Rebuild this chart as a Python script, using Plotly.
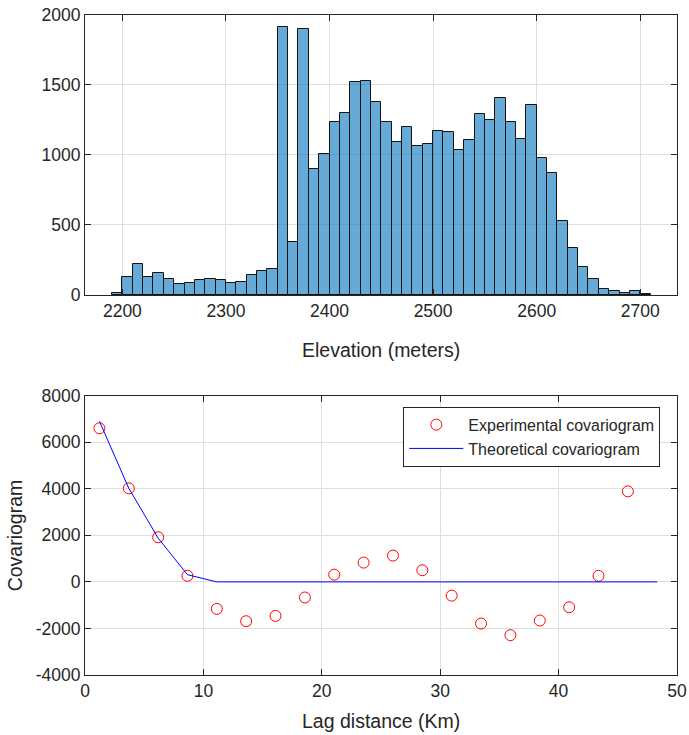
import plotly.graph_objects as go
from plotly.subplots import make_subplots

# ---- Histogram data (bin width 10 m) ----
bin_starts = list(range(2190, 2710, 10))
counts = [15, 126, 221, 131, 160, 117, 76, 88, 105, 117,
          105, 88, 93, 143, 169, 186, 1917, 381, 1898, 898,
          1007, 1233, 1298, 1521, 1531, 1379, 1238, 1093, 1202, 1067,
          1081, 1169, 1162, 1036, 1105, 1295, 1248, 1405, 1238, 1114,
          1360, 981, 869, 531, 338, 200, 117, 45, 26, 17,
          26, 5]
bin_width = 10

# ---- Covariogram data ----
lags = [1.22, 3.70, 6.18, 8.65, 11.13, 13.61, 16.09, 18.57, 21.05, 23.53,
        26.01, 28.49, 30.97, 33.45, 35.93, 38.41, 40.89, 43.37, 45.85]
exp_cov = [6600, 4020, 1920, 260, -1160, -1690, -1460, -670, 310, 830,
           1130, 500, -590, -1790, -2290, -1660, -1090, 260, 3890]
theo_lags = lags + [48.33]
theo_cov = [6900, 4020, 1880, 310, 0, 0, 0, 0, 0, 0,
            0, 0, 0, 0, 0, 0, 0, 0, 0, 0]

hist_xticks = [2200, 2300, 2400, 2500, 2600, 2700]
hist_yticks = [0, 500, 1000, 1500, 2000]
cov_xticks = [0, 10, 20, 30, 40, 50]
cov_yticks = [-4000, -2000, 0, 2000, 4000, 6000, 8000]

FONT = "Liberation Sans, Arial, Helvetica, sans-serif"
TXT = "#262626"
GRID = "rgb(223,223,223)"

fig = make_subplots(rows=2, cols=1)

fig.add_trace(go.Bar(
    x=[s + bin_width / 2 for s in bin_starts], y=counts, width=bin_width,
    marker=dict(color="rgba(0,114,189,0.6)", line=dict(color="rgb(20,20,20)", width=1)),
    showlegend=False), row=1, col=1)

fig.add_trace(go.Scatter(
    x=lags, y=exp_cov, mode="markers", name="Experimental covariogram",
    marker=dict(symbol="circle-open", size=11, color="rgb(255,0,0)", line=dict(width=1))),
    row=2, col=1)
fig.add_trace(go.Scatter(
    x=theo_lags, y=theo_cov, mode="lines", name="Theoretical covariogram",
    line=dict(color="rgb(0,0,255)", width=1)), row=2, col=1)

axis_common = dict(
    showline=True, linecolor=TXT, linewidth=1, mirror="ticks",
    ticks="inside", ticklen=6, tickcolor=TXT, tickwidth=1,
    showgrid=True, gridcolor=GRID, gridwidth=1, zeroline=False,
    automargin=False,
    tickfont=dict(family=FONT, size=17.5, color=TXT),
)

fig.update_xaxes(axis_common)
fig.update_yaxes(axis_common)

fig.update_xaxes(row=1, col=1, domain=[0, 1], range=[2163.9, 2735.5],
                 tickmode="array", tickvals=hist_xticks,
                 ticktext=[str(v) for v in hist_xticks])
fig.update_yaxes(row=1, col=1, domain=[0.5758, 1.0], range=[0, 2000],
                 tickmode="array", tickvals=hist_yticks,
                 ticktext=[str(v) for v in hist_yticks])
fig.update_xaxes(row=2, col=1, domain=[0, 1], range=[0, 50],
                 tickmode="array", tickvals=cov_xticks,
                 ticktext=[str(v) for v in cov_xticks])
fig.update_yaxes(row=2, col=1, domain=[0.0, 0.4232], range=[-4000, 8000],
                 tickmode="array", tickvals=cov_yticks,
                 ticktext=[str(v) for v in cov_yticks])

title_font = dict(family=FONT, size=19.5, color=TXT)
annotations = [
    dict(text="Elevation (meters)", x=0.5, y=0.4925, xref="paper", yref="paper",
         xanchor="center", yanchor="middle", showarrow=False, font=title_font),
    dict(text="Lag distance (Km)", x=0.5, y=-0.0691, xref="paper", yref="paper",
         xanchor="center", yanchor="middle", showarrow=False, font=title_font),
    dict(text="Covariogram", x=-0.1177, y=0.2121, xref="paper", yref="paper",
         xanchor="center", yanchor="middle", textangle=-90, showarrow=False, font=title_font),
]

fig.update_layout(
    width=689, height=735,
    margin=dict(l=85, r=12, t=15, b=60),
    paper_bgcolor="white", plot_bgcolor="white",
    bargap=0,
    font=dict(family=FONT, color=TXT),
    annotations=annotations,
    legend=dict(x=0.5377, y=0.4065, xanchor="left", yanchor="top",
                bordercolor=TXT, borderwidth=1, bgcolor="white",
                font=dict(family=FONT, size=16, color=TXT),
                itemwidth=54, tracegroupgap=0),
)

fig.write_html("out.html")
